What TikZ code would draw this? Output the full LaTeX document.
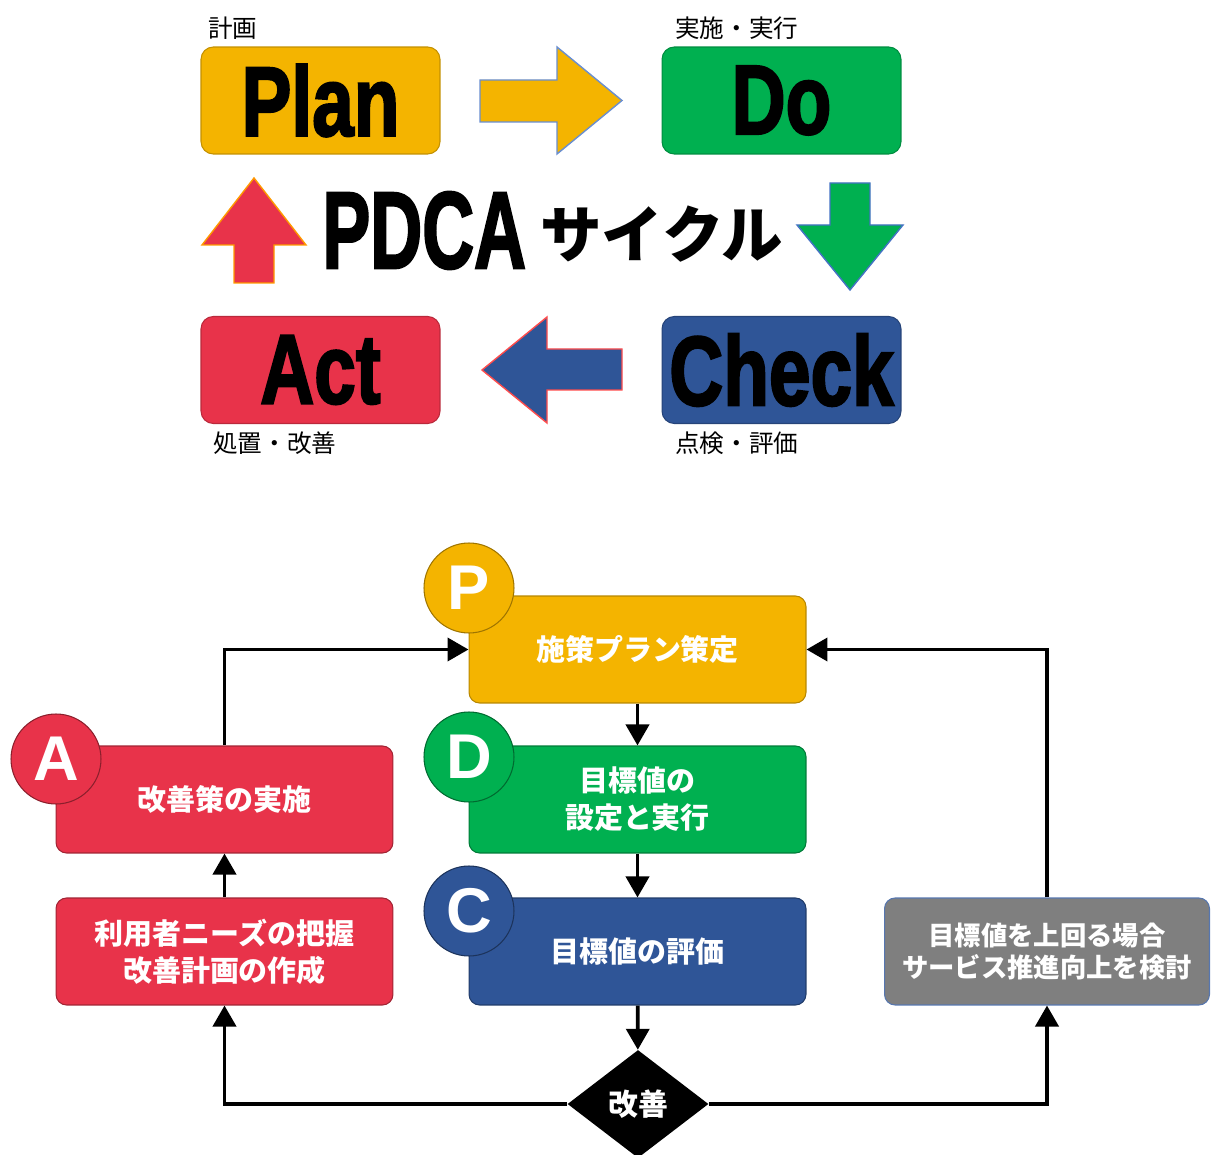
\documentclass[tikz,border=0pt]{standalone}
\usepackage{fontspec}
\setmainfont{Liberation Sans}
\newfontfamily\jpfont{Noto Sans CJK JP}
\newfontfamily\heavyfont{Liberation Sans}[BoldFeatures={FakeBold=2.5}]
\usetikzlibrary{shapes.geometric, arrows.meta, positioning}
\definecolor{clrPlan}{HTML}{F4B400}
\definecolor{clrDo}{HTML}{00B050}
\definecolor{clrCheck}{HTML}{2F5597}
\definecolor{clrAct}{HTML}{E8334A}
\definecolor{clrNote}{HTML}{7F7F7F}
\definecolor{clrEdge}{HTML}{4472C4}
\newcommand{\squeeze}[1]{\scalebox{0.76}[1]{#1}}

\begin{document}
\begin{tikzpicture}[
    x=0.02cm, y=-0.02cm,
    stage/.style={rectangle, minimum width=4.78cm, minimum height=2.14cm, rounded corners=7pt, line width=0.6pt, inner sep=0pt, font=\heavyfont\fontsize{56}{56}\selectfont\bfseries},
    tag/.style={anchor=west, inner sep=0pt, font=\jpfont\fontsize{14}{14}\selectfont},
    bigarrow/.style={line width=0.8pt, line join=miter},
    phasebox/.style={rectangle, minimum width=6.74cm, minimum height=2.14cm, rounded corners=6pt, line width=0.6pt, align=center, text=white, font=\jpfont\bfseries\fontsize{16.5}{21}\selectfont},
    badge/.style={circle, minimum size=1.8cm, inner sep=0pt, line width=0.6pt, text=white, font=\fontsize{36}{36}\selectfont\bfseries},
    decide/.style={diamond, fill=black, minimum width=2.82cm, minimum height=2.16cm, inner sep=0pt, text=white, font=\jpfont\bfseries\fontsize{17}{17}\selectfont},
    flow/.style={-{Triangle[length=0.42cm, width=0.46cm]}, line width=2.2pt},
]
\useasboundingbox (0,0) rectangle (1211,1155);

% PDCA cycle at top
\node[stage, fill=clrPlan, draw=clrPlan!80!black] (plan) at (320.5,100.5) {\squeeze{Plan}};
\node[stage, fill=clrDo, draw=clrDo!80!black] (do) at (781.5,100.5) {\squeeze{Do}};
\node[stage, fill=clrAct, draw=clrAct!80!black] (act) at (320.5,370) {\squeeze{Act}};
\node[stage, fill=clrCheck, draw=clrCheck!80!black] (check) at (781.5,370) {\squeeze{Check}};

\node[tag] (planTag) at (208,28) {計画};
\node[tag] (doTag) at (675,28) {実施・実行};
\node[tag] (actTag) at (213,443) {処置・改善};
\node[tag] (checkTag) at (675,443) {点検・評価};

% block arrows between the stages
\draw[bigarrow, fill=clrPlan, draw=clrEdge!80] (480,80) -- (557,80) -- (557,47) -- (622,100.5) -- (557,154) -- (557,122) -- (480,122) -- cycle;
\draw[bigarrow, fill=clrDo, draw=clrEdge] (830,183) -- (870,183) -- (870,225) -- (903,225) -- (850,290) -- (797,225) -- (830,225) -- cycle;
\draw[bigarrow, fill=clrCheck, draw=red!70] (622,349) -- (547,349) -- (547,317) -- (482,370) -- (547,423) -- (547,390) -- (622,390) -- cycle;
\draw[bigarrow, fill=clrAct, draw=orange!80!yellow] (234,283) -- (234,245) -- (202,245) -- (254,178) -- (306,245) -- (274,245) -- (274,283) -- cycle;

\node[anchor=base west, inner sep=0pt, font=\heavyfont\fontsize{62}{62}\selectfont\bfseries] (title) at (322,268) {\scalebox{0.66}[1]{PDCA}};
\node[anchor=west, inner sep=0pt, font=\jpfont\bfseries\fontsize{35}{35}\selectfont] (cycle) at (540,234) {サイクル};

% Flow chart
\node[phasebox, fill=clrPlan, draw=clrPlan!75!black] (plan2) at (637.5,649.5) {施策プラン策定};
\node[phasebox, fill=clrDo, draw=clrDo!70!black] (do2) at (637.5,799.5) {目標値の\\設定と実行};
\node[phasebox, fill=clrCheck, draw=clrCheck!70!black] (check2) at (637.5,951.5) {目標値の評価};
\node[phasebox, fill=clrAct, draw=clrAct!70!black] (act2) at (224.5,799.5) {改善策の実施};
\node[phasebox, fill=clrAct, draw=clrAct!70!black] (needs) at (224.5,951.5) {利用者ニーズの把握\\改善計画の作成};
\node[phasebox, fill=clrNote, draw=clrEdge!70!gray, minimum width=6.5cm, font=\jpfont\bfseries\fontsize{15}{18}\selectfont] (note) at (1047,951.5) {目標値を上回る場合\\サービス推進向上を検討};
\node[decide] (imp) at (638,1104) {改善};

% Letter badges
\node[badge, fill=clrPlan, draw=clrPlan!65!black] (badgeP) at (469,588) {P};
\node[badge, fill=clrDo, draw=clrDo!60!black] (badgeD) at (469,757) {D};
\node[badge, fill=clrCheck, draw=clrCheck!60!black] (badgeC) at (469,911) {C};
\node[badge, fill=clrAct, draw=clrAct!60!black] (badgeA) at (56,759) {A};

% Connectors
\draw[flow] (plan2) -- (do2);
\draw[flow] (do2) -- (check2);
\draw[flow] (check2) -- (imp);
\draw[flow] (imp.west) -| (needs.south);
\draw[flow] (imp.east) -| (note.south);
\draw[flow] (note.north) |- (plan2.east);
\draw[flow] (needs) -- (act2);
\draw[flow] (act2.north) |- (plan2.west);

\end{tikzpicture}
\end{document}
